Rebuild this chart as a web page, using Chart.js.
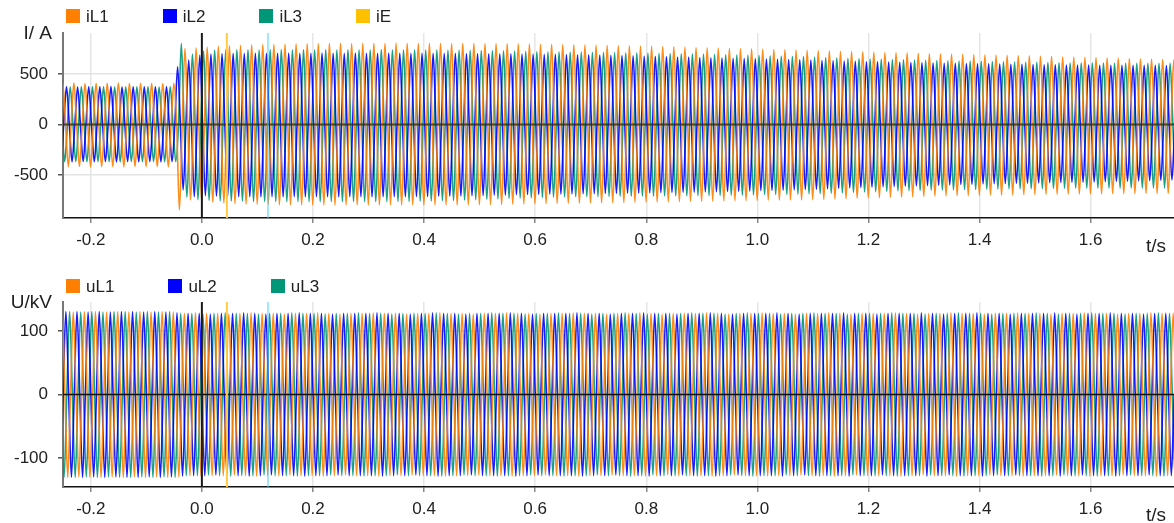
<!DOCTYPE html>
<html>
<head>
<meta charset="utf-8">
<title>iL / uL</title>
<script src="https://cdn.jsdelivr.net/npm/chart.js@4.4.1/dist/chart.umd.min.js"></script>
<style>
  html, body { margin: 0; padding: 0; background: #fff; }
  #page { position: relative; width: 1174px; height: 523px; overflow: hidden; font-family: "Liberation Sans", Arial, sans-serif; }
  .plot { position: absolute; left: 0; width: 1174px; }
  .legend { position: absolute; left: 66px; display: flex; align-items: center; height: 15px; font-size: 17px; color: #222; }
  .legend .item { display: flex; align-items: center; margin-right: 54px; white-space: nowrap; }
  .legend .box { width: 14px; height: 14px; margin-right: 6px; }
  .legend .label { position: relative; top: 1px; }
</style>
</head>
<body>
<div id="page">
  <div class="plot" style="top:0;height:262px"><canvas id="currentChart" width="1174" height="262" style="width:1174px;height:262px"></canvas></div>
  <div class="plot" style="top:262px;height:261px"><canvas id="voltageChart" width="1174" height="261" style="width:1174px;height:261px"></canvas></div>
  <div class="legend" id="currentLegend" style="top:8px"></div>
  <div class="legend" id="voltageLegend" style="top:278px"></div>
</div>
<script>
// ---- data ----
const PERIOD = 0.02; // 50 Hz
const xRange = [-0.25, 1.75];
const xTicks = [-0.2, 0, 0.2, 0.4, 0.6, 0.8, 1.0, 1.2, 1.4, 1.6];

const currentRange = [-926, 906];
const currentTicks = [-500, 0, 500];
const voltageRange = [-146, 146];
const voltageTicks = [-100, 0, 100];

// time of the first positive peak of each phase (s)
const firstPeakL1 = -0.2504;
const firstPeakL2 = -0.2637;
const firstPeakL3 = -0.2570;
const firstPeakU1 = -0.2515;
const firstPeakU2 = -0.2648;
const firstPeakU3 = -0.2581;

// cursor markers (s)
const cursorTimes = [0, 0.045, 0.119];

// per-cycle peak / trough of the phase currents (A), cycle 0..100
const iL1Max = [
  408, 410, 406, 409, 408, 410, 407, 409, 408, 406, 408,
  754, 760, 767, 774, 780, 784, 788, 791, 794, 796,
  798, 800, 801, 803, 804, 802, 805, 803, 804, 806,
  804, 803, 805, 804, 802, 804, 803, 801, 802, 800,
  798, 797, 795, 793, 792, 790, 789, 787, 784, 782,
  780, 778, 775, 773, 770, 767, 762, 760, 757, 754,
  752, 749, 746, 743, 741, 738, 735, 732, 729, 725,
  723, 721, 718, 715, 712, 709, 706, 703, 700, 698,
  696, 693, 690, 688, 685, 682, 680, 677, 675, 671,
  669, 666, 663, 660, 657, 654, 651, 647, 643, 639
];
const iL1Min = [
  -418, -416, -419, -417, -418, -420, -416, -418, -417, -419, -846,
  -747, -760, -770, -778, -784, -788, -791, -793, -795, -796,
  -797, -798, -797, -799, -798, -797, -799, -798, -797, -798,
  -797, -798, -796, -797, -798, -796, -795, -794, -792, -790,
  -788, -786, -784, -782, -781, -779, -778, -777, -775, -773,
  -771, -770, -768, -766, -764, -762, -761, -759, -757, -755,
  -753, -752, -750, -749, -748, -747, -745, -742, -739, -735,
  -731, -728, -725, -722, -719, -716, -713, -710, -707, -705,
  -704, -702, -700, -699, -697, -696, -694, -693, -691, -690,
  -689, -688, -687, -686, -685, -684, -683, -682, -682, -681
];
const iL2Max = [
  372, 374, 371, 373, 372, 375, 371, 373, 372, 374, 372,
  572, 639, 688, 698, 702, 704, 705, 706, 705, 706,
  707, 705, 706, 708, 706, 705, 707, 706, 705, 707,
  706, 705, 706, 704, 705, 704, 703, 702, 701, 700,
  699, 698, 697, 695, 694, 693, 691, 690, 688, 686,
  683, 680, 678, 675, 672, 669, 667, 664, 661, 659,
  656, 653, 650, 648, 645, 642, 640, 637, 634, 631,
  628, 625, 622, 620, 618, 616, 614, 611, 609, 607,
  605, 604, 602, 600, 598, 597, 595, 594, 592, 590,
  589, 588, 588, 587, 587, 586, 586, 585, 585, 584
];
const iL2Min = [
  -368, -370, -367, -369, -368, -371, -367, -369, -368, -370, -368,
  -648, -715, -705, -710, -713, -714, -715, -716, -715, -716,
  -715, -716, -714, -715, -716, -715, -714, -716, -715, -714,
  -715, -713, -712, -711, -709, -707, -705, -703, -700, -698,
  -696, -694, -692, -690, -689, -687, -686, -685, -684, -682,
  -681, -679, -677, -675, -673, -671, -670, -668, -666, -664,
  -662, -659, -656, -653, -650, -647, -644, -640, -636, -632,
  -628, -624, -620, -617, -614, -611, -608, -605, -602, -599,
  -594, -591, -589, -587, -585, -583, -581, -579, -577, -575,
  -573, -571, -569, -567, -564, -562, -559, -556, -553, -550
];
const iL3Max = [
  373, 371, 374, 372, 373, 371, 374, 372, 373, 371, 373,
  804, 698, 728, 738, 740, 741, 742, 740, 741, 742,
  740, 741, 739, 742, 740, 741, 739, 740, 742, 740,
  739, 740, 738, 739, 737, 736, 734, 733, 731, 729,
  727, 725, 723, 721, 719, 718, 717, 716, 715, 713,
  711, 709, 707, 705, 703, 701, 699, 697, 695, 692,
  690, 687, 684, 681, 678, 675, 672, 668, 664, 660,
  656, 652, 648, 645, 643, 640, 638, 636, 633, 631,
  629, 627, 625, 623, 621, 619, 617, 615, 613, 611,
  609, 609, 608, 608, 607, 607, 606, 606, 605, 605
];
const iL3Min = [
  -368, -366, -369, -367, -368, -370, -366, -368, -367, -369, -368,
  -720, -745, -752, -756, -758, -760, -762, -763, -762, -764,
  -763, -764, -765, -763, -764, -762, -764, -763, -765, -763,
  -762, -760, -758, -755, -752, -749, -745, -741, -737, -733,
  -729, -726, -723, -720, -718, -716, -715, -714, -713, -712,
  -711, -710, -709, -708, -707, -706, -705, -704, -702, -700,
  -699, -697, -696, -694, -692, -690, -688, -685, -681, -677,
  -673, -669, -665, -662, -659, -656, -654, -651, -649, -647,
  -645, -643, -641, -640, -638, -637, -636, -634, -633, -632,
  -631, -631, -630, -630, -630, -629, -629, -629, -629, -629
];
// earth current stays at zero
const iETimes = [-0.25, 1.75];
const iEValues = [0, 0];

// per-cycle amplitude of the phase voltages (kV), cycle 0..100
const uL1Amp = [
  131, 130, 131, 131, 130, 131, 130, 131, 130, 131, 130,
  128, 129, 128, 128, 127, 128, 129, 128, 128, 127,
  128, 128, 129, 128, 127, 128, 128, 129, 128, 128,
  127, 128, 128, 129, 128, 128, 127, 128, 128, 129,
  128, 128, 127, 128, 128, 129, 128, 128, 127, 128,
  128, 129, 128, 127, 128, 128, 128, 129, 128, 127,
  128, 128, 129, 128, 128, 127, 128, 128, 129, 128,
  127, 128, 128, 128, 129, 128, 127, 128, 128, 129,
  128, 128, 127, 128, 128, 129, 128, 128, 127, 128,
  128, 129, 128, 128, 127, 128, 128, 129, 128, 128
];
const uL2Amp = [
  130, 131, 131, 130, 131, 130, 131, 131, 130, 131, 130,
  129, 128, 128, 127, 128, 128, 129, 128, 127, 128,
  128, 129, 128, 128, 127, 128, 128, 128, 129, 128,
  128, 127, 128, 129, 128, 128, 127, 128, 128, 128,
  129, 128, 127, 128, 128, 128, 129, 128, 128, 127,
  128, 128, 129, 128, 128, 127, 128, 128, 129, 128,
  127, 128, 128, 128, 129, 128, 127, 128, 128, 128,
  129, 128, 128, 127, 128, 128, 128, 129, 128, 127,
  128, 128, 129, 128, 128, 127, 128, 128, 128, 129,
  128, 127, 128, 128, 129, 128, 128, 127, 128, 128
];
const uL3Amp = [
  131, 131, 130, 131, 130, 131, 131, 130, 131, 130, 131,
  128, 128, 127, 128, 129, 128, 128, 127, 128, 128,
  129, 128, 128, 127, 128, 128, 129, 128, 128, 127,
  128, 128, 128, 129, 128, 127, 128, 128, 129, 128,
  128, 127, 128, 128, 129, 128, 128, 127, 128, 128,
  129, 128, 127, 128, 128, 128, 129, 128, 128, 127,
  128, 129, 128, 128, 127, 128, 128, 129, 128, 128,
  127, 128, 128, 128, 129, 128, 128, 127, 128, 128,
  129, 128, 128, 127, 128, 128, 128, 129, 128, 127,
  128, 128, 129, 128, 128, 127, 128, 128, 129, 128
];

// ---- styling ----
const FONT = '"Liberation Sans", Arial, sans-serif';
const ORANGE = "rgba(255,128,0,0.9)";
const BLUE = "rgba(0,0,255,0.9)";
const GREEN = "rgba(0,150,120,0.9)";
const YELLOW = "#ffc000";
const cursorStyles = [
  { color: "#1a1a1a", width: 2 },
  { color: "#ffcb45", width: 2 },
  { color: "#3fd2ff", width: 1 },
];

Chart.defaults.font.family = FONT;
Chart.defaults.font.size = 17;
Chart.defaults.color = "#222";

// one point at each zero crossing and each extreme of every cycle
function buildWave(firstPeak, maxVals, minVals) {
  const pts = [];
  maxVals.forEach((hi, k) => {
    const tp = firstPeak + k * PERIOD;
    pts.push({ x: tp - PERIOD / 4, y: 0 });
    pts.push({ x: tp, y: hi });
    pts.push({ x: tp + PERIOD / 4, y: 0 });
    pts.push({ x: tp + PERIOD / 2, y: minVals[k] });
  });
  const last = firstPeak + (maxVals.length - 1) * PERIOD;
  pts.push({ x: last + (3 * PERIOD) / 4, y: 0 });
  return pts;
}

const overlay = {
  id: "overlay",
  afterDatasetsDraw(chart, args, opts) {
    const { ctx, chartArea: a } = chart;
    const x = chart.scales.x;
    const y = chart.scales.y;
    ctx.save();
    const y0 = y.getPixelForValue(0);
    ctx.strokeStyle = opts.zeroColor;
    ctx.lineWidth = opts.zeroWidth;
    ctx.beginPath();
    ctx.moveTo(a.left, y0);
    ctx.lineTo(a.right, y0);
    ctx.stroke();
    cursorTimes.forEach((t, i) => {
      const px = x.getPixelForValue(t);
      ctx.strokeStyle = cursorStyles[i].color;
      ctx.lineWidth = cursorStyles[i].width;
      ctx.beginPath();
      ctx.moveTo(px, a.top);
      ctx.lineTo(px, a.bottom);
      ctx.stroke();
    });
    ctx.restore();
  },
  afterDraw(chart, args, opts) {
    const { ctx, chartArea: a } = chart;
    ctx.save();
    ctx.font = "19px " + FONT;
    ctx.fillStyle = "#222";
    ctx.textAlign = "right";
    ctx.textBaseline = "middle";
    ctx.fillText(opts.yTitle, a.left - 11, a.top + 1);
    ctx.fillText("t/s", a.right - 8, a.bottom + 29);
    ctx.restore();
  },
};

function renderLegend(id, series) {
  document.getElementById(id).innerHTML = series
    .map(
      (s) =>
        `<span class="item"><span class="box" style="background:${s.legendColor}"></span><span class="label">${s.label}</span></span>`,
    )
    .join("");
}

function makeChart(canvasId, series, yRange, yTicks, opts) {
  const ctx = document.getElementById(canvasId).getContext("2d");
  return new Chart(ctx, {
    type: "line",
    data: {
      datasets: series.map((s) => ({
        label: s.label,
        data: s.data,
        borderColor: s.color,
        borderWidth: s.width || 1.6,
        pointRadius: 0,
        fill: false,
        cubicInterpolationMode: "monotone",
      })),
    },
    options: {
      responsive: false,
      animation: false,
      parsing: false,
      normalized: true,
      events: [],
      layout: { padding: { top: opts.padTop, left: 0, right: 0, bottom: 0 } },
      plugins: {
        legend: { display: false },
        tooltip: { enabled: false },
        overlay: { yTitle: opts.yTitle, zeroColor: opts.zeroColor, zeroWidth: opts.zeroWidth },
      },
      scales: {
        x: {
          type: "linear",
          min: xRange[0],
          max: xRange[1],
          afterBuildTicks: (s) => {
            s.ticks = xTicks.map((v) => ({ value: v }));
          },
          afterFit: (s) => {
            s.height = opts.xAxisHeight;
          },
          ticks: {
            padding: 7,
            maxRotation: 0,
            autoSkip: false,
            callback: (v) => Number(v).toFixed(1),
          },
          grid: { color: "#e6e6e6", lineWidth: 1.5, tickColor: "#888", tickLength: 5 },
          border: { color: "#111", width: 1.5 },
        },
        y: {
          min: yRange[0],
          max: yRange[1],
          afterBuildTicks: (s) => {
            s.ticks = yTicks.map((v) => ({ value: v }));
          },
          afterFit: (s) => {
            s.width = 63;
          },
          ticks: { padding: 10, callback: (v) => String(v) },
          grid: {
            color: (c) => (c.tick && c.tick.value === 0 ? "rgba(0,0,0,0)" : "#e3e3e3"),
            lineWidth: 1.5,
            tickColor: "#555",
            tickLength: 5,
          },
          border: { color: "#777", width: 2 },
        },
      },
    },
    plugins: [overlay],
  });
}

const currentSeries = [
  { label: "iL1", color: ORANGE, legendColor: "#ff8000", data: buildWave(firstPeakL1, iL1Max, iL1Min) },
  { label: "iL2", color: BLUE, legendColor: "#0000ff", data: buildWave(firstPeakL2, iL2Max, iL2Min) },
  { label: "iL3", color: GREEN, legendColor: "#009678", data: buildWave(firstPeakL3, iL3Max, iL3Min) },
  { label: "iE", color: YELLOW, legendColor: "#ffc000", width: 2, data: iETimes.map((t, i) => ({ x: t, y: iEValues[i] })) },
];
const voltageSeries = [
  { label: "uL1", color: ORANGE, legendColor: "#ff8000", data: buildWave(firstPeakU1, uL1Amp, uL1Amp.map((v) => -v)) },
  { label: "uL2", color: BLUE, legendColor: "#0000ff", data: buildWave(firstPeakU2, uL2Amp, uL2Amp.map((v) => -v)) },
  { label: "uL3", color: GREEN, legendColor: "#009678", data: buildWave(firstPeakU3, uL3Amp, uL3Amp.map((v) => -v)) },
];

renderLegend("currentLegend", currentSeries);
renderLegend("voltageLegend", voltageSeries);

makeChart("currentChart", currentSeries, currentRange, currentTicks, {
  padTop: 33,
  xAxisHeight: 44,
  yTitle: "I/ A",
  zeroColor: "rgba(45,45,30,0.75)",
  zeroWidth: 2,
});
makeChart("voltageChart", voltageSeries, voltageRange, voltageTicks, {
  padTop: 40,
  xAxisHeight: 36,
  yTitle: "U/kV",
  zeroColor: "#111",
  zeroWidth: 1.3,
});
</script>
</body>
</html>
